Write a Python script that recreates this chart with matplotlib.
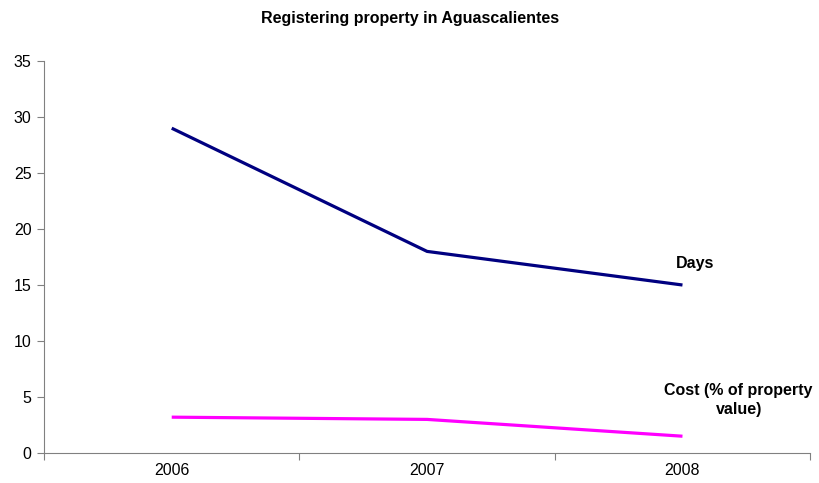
import matplotlib.pyplot as plt

plt.rcParams['font.family'] = ['Liberation Sans', 'DejaVu Sans']

# data
years = ['2006', '2007', '2008']
days = [29, 18, 15]
cost = [3.2, 3.0, 1.5]

fig = plt.figure(figsize=(8.2, 4.83), dpi=100)
ax = fig.add_axes([0.0537, 0.0621, 0.9343, 0.8116])

x = range(len(years))
ax.plot(x, days, color='#000080', linewidth=2.3, solid_capstyle='butt')
ax.plot(x, cost, color='#FF00FF', linewidth=2.3, solid_capstyle='butt')

ax.set_xlim(-0.5, 2.5)
ax.set_ylim(0, 35)
ax.set_yticks(range(0, 36, 5))

# category labels between tick marks (Excel style)
ax.set_xticks([-0.5, 0.5, 1.5, 2.5])
ax.set_xticklabels([])
ax.set_xticks(list(x), minor=True)
ax.set_xticklabels(years, minor=True)
ax.tick_params(axis='x', which='minor', length=0, pad=7, labelsize=11.5)
ax.tick_params(axis='x', which='major', length=5, color='#808080')
ax.tick_params(axis='y', length=5, labelsize=11.5, color='#808080', pad=4)

for s in ['top', 'right']:
    ax.spines[s].set_visible(False)
for s in ['left', 'bottom']:
    ax.spines[s].set_color('#808080')

ax.text(2.05, 16.9, 'Days', fontsize=11.5, fontweight='bold', ha='center', va='center')
ax.text(2.22, 4.7, 'Cost (% of property\nvalue)', fontsize=11.5, fontweight='bold',
        ha='center', va='center', linespacing=1.35)

fig.text(0.5, 0.962, 'Registering property in Aguascalientes', fontsize=11.5,
         fontweight='bold', ha='center', va='center')

fig.savefig('out.png', dpi=100)
